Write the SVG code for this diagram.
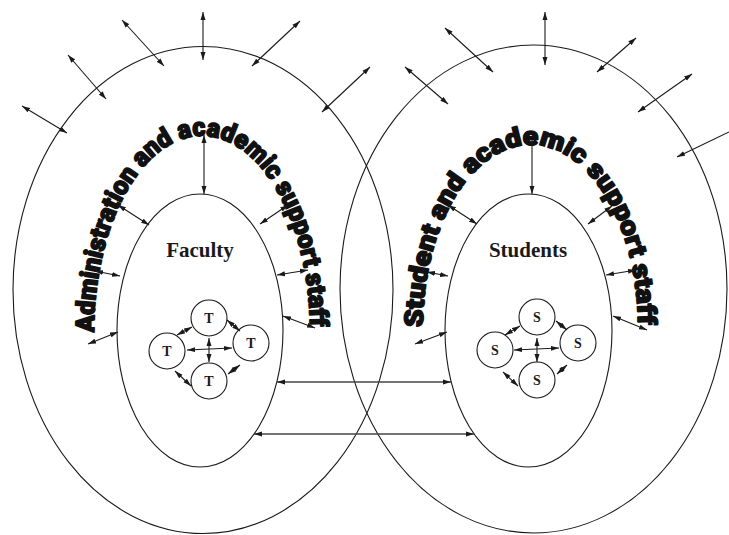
<svg xmlns="http://www.w3.org/2000/svg" xmlns:xlink="http://www.w3.org/1999/xlink" width="729" height="535" viewBox="0 0 729 535">
<style>
.ring{fill:none;stroke:#1a1a1a;stroke-width:1.1}
.node{fill:#fff;stroke:#1a1a1a;stroke-width:1.1}
.arr{fill:none;stroke:#1a1a1a;stroke-width:1.1;marker-end:url(#ah);marker-start:url(#ah)}
.arr1{fill:none;stroke:#1a1a1a;stroke-width:1.1;marker-end:url(#ah)}
.hz{fill:none;stroke:#444;stroke-width:1.6;marker-end:url(#ah);marker-start:url(#ah)}
.arc{font-family:"Roboto","Lato","Liberation Sans",sans-serif;font-weight:900;font-size:26px;fill:#111;stroke:#111;stroke-width:1.6;stroke-linejoin:round}
.lbl{font-family:"Liberation Serif","Times New Roman",serif;font-weight:bold;font-size:21px;fill:#1a1a1a;text-anchor:middle}
.sm{font-family:"Liberation Serif","Times New Roman",serif;font-weight:bold;font-size:14px;fill:#1a1a1a;text-anchor:middle}
</style>
<defs>
<marker id="ah" markerUnits="userSpaceOnUse" markerWidth="8" markerHeight="6" refX="8" refY="3" orient="auto-start-reverse">
<path d="M0,0.5 L8,3 L0,5.5 z" fill="#1a1a1a"/>
</marker>
<path id="arcL" d="M94,332 A108,196 0 0 1 310,332"/>
<path id="arcR" d="M423,327 A107.5,182 0 0 1 638,327"/>
</defs>

<g id="admin-ring">
<ellipse class="ring" cx="203" cy="290" rx="190" ry="243.5"/>
<text class="arc"><textPath xlink:href="#arcL" href="#arcL" textLength="482" lengthAdjust="spacingAndGlyphs">Administration and academic support staff</textPath></text>
</g>
<g id="student-ring">
<ellipse class="ring" cx="533.5" cy="289" rx="193.5" ry="244"/>
<text class="arc"><textPath xlink:href="#arcR" href="#arcR" textLength="460" lengthAdjust="spacingAndGlyphs">Student and academic support staff</textPath></text>
</g>
<g id="faculty">
<ellipse class="ring" cx="200" cy="330.5" rx="83" ry="136.5"/>
<text class="lbl" x="200" y="257">Faculty</text>
</g>
<g id="students">
<ellipse class="ring" cx="528.5" cy="330.5" rx="83.5" ry="136.5"/>
<text class="lbl" x="528" y="257">Students</text>
</g>

<g id="t-top"><circle class="node" cx="209" cy="318" r="18"/><text class="sm" x="209" y="323">T</text></g>
<g id="t-left"><circle class="node" cx="167" cy="351" r="18"/><text class="sm" x="167" y="356">T</text></g>
<g id="t-right"><circle class="node" cx="251" cy="343" r="18"/><text class="sm" x="251" y="348">T</text></g>
<g id="t-bottom"><circle class="node" cx="209" cy="381" r="18"/><text class="sm" x="209" y="386">T</text></g>

<g id="s-top"><circle class="node" cx="537" cy="317" r="18"/><text class="sm" x="537" y="322">S</text></g>
<g id="s-left"><circle class="node" cx="495" cy="350" r="18"/><text class="sm" x="495" y="355">S</text></g>
<g id="s-right"><circle class="node" cx="578" cy="343" r="18"/><text class="sm" x="578" y="348">S</text></g>
<g id="s-bottom"><circle class="node" cx="537" cy="380" r="18"/><text class="sm" x="537" y="385">S</text></g>

<g id="connectors">
<line class="arr" x1="22" y1="106" x2="67" y2="133"/>
<line class="arr" x1="68" y1="55" x2="106" y2="99"/>
<line class="arr" x1="122" y1="20" x2="164" y2="66"/>
<line class="arr" x1="203" y1="12" x2="203" y2="60"/>
<line class="arr" x1="300" y1="21" x2="252" y2="66"/>
<line class="arr" x1="370" y1="67" x2="322" y2="112"/>
<line class="arr" x1="405" y1="67" x2="448" y2="104"/>
<line class="arr" x1="445" y1="28" x2="493" y2="72"/>
<line class="arr" x1="545" y1="12" x2="545" y2="65"/>
<line class="arr" x1="636" y1="38" x2="597" y2="72"/>
<line class="arr" x1="692" y1="74" x2="638" y2="112"/>
<line class="arr1" x1="729" y1="132" x2="677" y2="157"/>
<line class="arr" x1="118" y1="205" x2="149" y2="225"/>
<line class="arr" x1="95" y1="271" x2="120" y2="276"/>
<line class="arr" x1="204" y1="135" x2="204" y2="194"/>
<line class="arr" x1="288" y1="205" x2="260" y2="224"/>
<line class="arr" x1="277" y1="275" x2="308" y2="270"/>
<line class="arr" x1="283" y1="316" x2="315" y2="328"/>
<line class="arr" x1="88" y1="344" x2="118" y2="332"/>
<line class="arr" x1="448" y1="205" x2="477" y2="224"/>
<line class="arr" x1="427" y1="272" x2="448" y2="276"/>
<line class="arr1" x1="532" y1="140" x2="532" y2="194"/>
<line class="arr" x1="612" y1="206" x2="588" y2="224"/>
<line class="arr" x1="606" y1="275" x2="636" y2="270"/>
<line class="arr" x1="613" y1="316" x2="647" y2="330"/>
<line class="arr" x1="415" y1="344" x2="447" y2="332"/>
<line class="hz" x1="277" y1="382" x2="451" y2="382"/>
<line class="hz" x1="254" y1="434" x2="474" y2="434"/>
<line class="arr" x1="177" y1="335" x2="192" y2="327"/>
<line class="arr" x1="227" y1="320" x2="240" y2="331"/>
<line class="arr" x1="187" y1="350" x2="232" y2="348"/>
<line class="arr" x1="209" y1="338" x2="209" y2="362"/>
<line class="arr" x1="175" y1="371" x2="191" y2="386"/>
<line class="arr" x1="228" y1="374" x2="240" y2="365"/>
<line class="arr" x1="505" y1="335" x2="520" y2="326"/>
<line class="arr" x1="556" y1="321" x2="567" y2="330"/>
<line class="arr" x1="514" y1="350" x2="559" y2="348"/>
<line class="arr" x1="537" y1="338" x2="537" y2="362"/>
<line class="arr" x1="503" y1="372" x2="518" y2="386"/>
<line class="arr" x1="557" y1="374" x2="567" y2="365"/>
</g>
</svg>
